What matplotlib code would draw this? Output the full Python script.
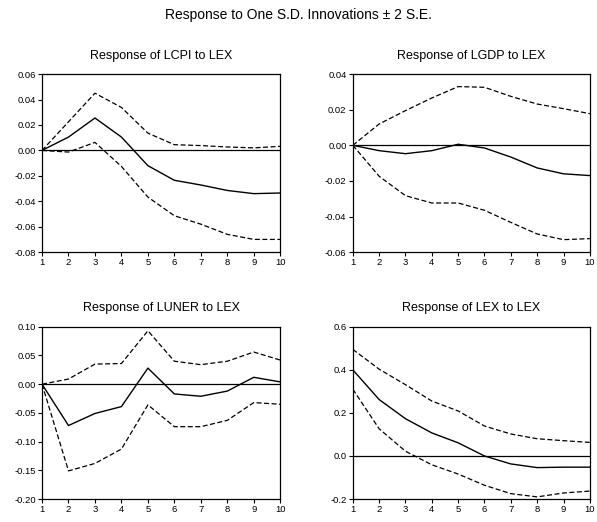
import matplotlib
matplotlib.use("Agg")
import matplotlib.pyplot as plt
import numpy as np

plt.rcParams["font.family"] = ["Liberation Sans", "DejaVu Sans"]

periods = list(range(1, 11))

# Response of LCPI to LEX
lcpi_mid = [0.0, 0.0105, 0.0255, 0.0105, -0.012, -0.0235, -0.0272, -0.0315, -0.0340, -0.0335]
lcpi_up = [0.0, 0.0225, 0.0450, 0.0338, 0.0136, 0.0045, 0.0038, 0.0027, 0.0020, 0.0032]
lcpi_lo = [0.0, -0.0013, 0.0063, -0.0126, -0.0367, -0.0514, -0.0580, -0.0660, -0.0700, -0.0700]

# Response of LGDP to LEX
lgdp_mid = [0.0, -0.0030, -0.0047, -0.0030, 0.0006, -0.0015, -0.0066, -0.0127, -0.0160, -0.0170]
lgdp_up = [0.0, 0.0120, 0.0195, 0.0266, 0.0330, 0.0326, 0.0275, 0.0232, 0.0206, 0.0178]
lgdp_lo = [0.0, -0.0174, -0.0283, -0.0324, -0.0324, -0.0365, -0.0433, -0.0498, -0.0530, -0.0524]

# Response of LUNER to LEX
luner_mid = [0.0, -0.072, -0.051, -0.039, 0.028, -0.017, -0.021, -0.012, 0.012, 0.004]
luner_up = [0.0, 0.009, 0.035, 0.036, 0.093, 0.040, 0.034, 0.040, 0.056, 0.042]
luner_lo = [0.0, -0.151, -0.138, -0.113, -0.036, -0.074, -0.074, -0.063, -0.032, -0.035]

# Response of LEX to LEX
lex_mid = [0.400, 0.262, 0.173, 0.107, 0.061, 0.0, -0.037, -0.054, -0.052, -0.052]
lex_up = [0.495, 0.403, 0.331, 0.255, 0.209, 0.139, 0.102, 0.080, 0.071, 0.063]
lex_lo = [0.310, 0.126, 0.022, -0.041, -0.084, -0.136, -0.175, -0.190, -0.172, -0.163]

panels = [
    ("Response of LCPI to LEX", lcpi_mid, lcpi_up, lcpi_lo, np.arange(-0.08, 0.061, 0.02), "%.2f"),
    ("Response of LGDP to LEX", lgdp_mid, lgdp_up, lgdp_lo, np.arange(-0.06, 0.041, 0.02), "%.2f"),
    ("Response of LUNER to LEX", luner_mid, luner_up, luner_lo, np.arange(-0.20, 0.101, 0.05), "%.2f"),
    ("Response of LEX to LEX", lex_mid, lex_up, lex_lo, np.arange(-0.2, 0.61, 0.2), "%.1f"),
]

# axes boxes in figure fractions [left, bottom, width, height]
boxes = [
    [0.0704, 0.517, 0.399, 0.341],
    [0.591, 0.517, 0.397, 0.341],
    [0.0704, 0.044, 0.399, 0.330],
    [0.591, 0.044, 0.397, 0.330],
]

fig = plt.figure(figsize=(5.97, 5.22), dpi=100)
fig.text(0.5, 0.971, "Response to One S.D. Innovations \u00b1 2 S.E.",
         ha="center", va="center", fontsize=10)

for (title, mid, up, lo, yt, fmt), box in zip(panels, boxes):
    ax = fig.add_axes(box)
    ax.axhline(0, color="black", lw=0.9)
    ax.plot(periods, mid, color="black", lw=1.0)
    ax.plot(periods, up, color="black", lw=0.9, ls=(0, (4, 2)))
    ax.plot(periods, lo, color="black", lw=0.9, ls=(0, (4, 2)))
    ax.set_xlim(1, 10)
    ax.set_ylim(yt[0], yt[-1])
    ax.set_xticks(periods)
    ax.set_yticks(yt)
    ax.set_yticklabels([fmt % v if abs(v) > 1e-9 else fmt % 0 for v in yt])
    ax.tick_params(labelsize=6.8, length=3, width=0.8, pad=1.5)
    for s in ax.spines.values():
        s.set_linewidth(0.9)
    ax.set_title(title, fontsize=9, pad=11)

fig.savefig("out.png", dpi=100)
